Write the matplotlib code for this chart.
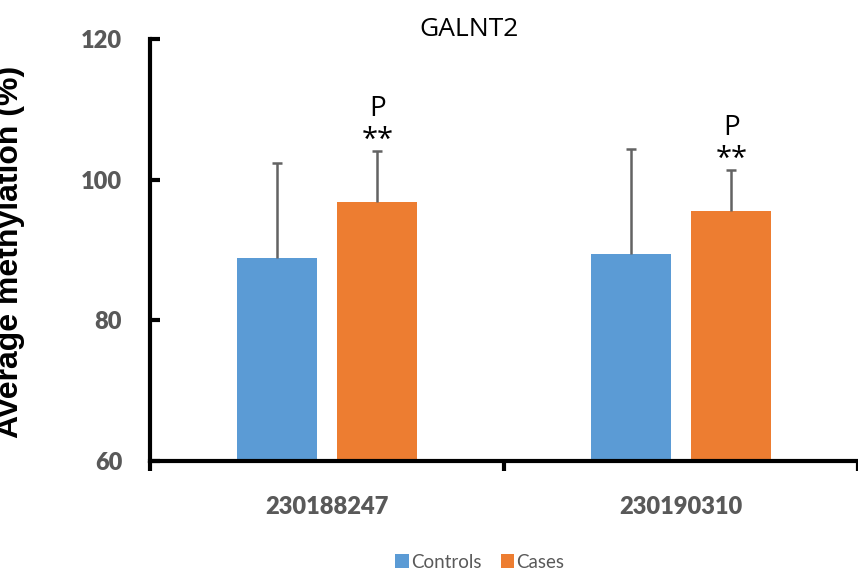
import numpy as np
import matplotlib
matplotlib.use("Agg")
import matplotlib.pyplot as plt

# --- DATA ---
categories = ["230188247", "230190310"]
controls = [88.8, 89.4]
controls_err = [13.6, 15.0]
cases = [96.8, 95.6]
cases_err = [7.3, 5.8]
series_names = ["Controls", "Cases"]
marks = ["**", "**"]

# --- STYLE ---
BLUE = "#5B9BD5"
ORANGE = "#ED7D31"
GRAY = "#595959"
ERR = "#636363"
TICK_FONT = "Lato"

fig = plt.figure(figsize=(8.58, 5.77), dpi=100)
ax = fig.add_axes([150 / 858, 1 - 461 / 577, 1 - 150 / 858, (461 - 39) / 577])

x = np.arange(len(categories))
w = 0.227
off = 0.142
cap = 0.014  # half cap width, data units

ax.bar(x - off, controls, w, color=BLUE, label=series_names[0], zorder=2)
ax.bar(x + off, cases, w, color=ORANGE, label=series_names[1], zorder=2)

# upper-only error bars
for xs, vals, errs in [(x - off, controls, controls_err), (x + off, cases, cases_err)]:
    tops = np.array(vals) + np.array(errs)
    ax.vlines(xs, vals, tops, color=ERR, linewidth=1.8, zorder=3)
    ax.hlines(tops, xs - cap, xs + cap, color=ERR, linewidth=1.8, zorder=3)

# significance marks above cases
for xi, v, e, m in zip(x, cases, cases_err, marks):
    top = v + e
    ax.annotate(m, (xi + off, top), xytext=(0, -3), textcoords="offset points",
                ha="center", va="bottom", fontsize=21, family="Open Sans",
                color="black", annotation_clip=False)
    ax.annotate("P", (xi + off, top), xytext=(0, 20), textcoords="offset points",
                ha="center", va="bottom", fontsize=20, family="Open Sans",
                color="black", annotation_clip=False)

ax.set_ylim(60, 120)
ax.set_xlim(-0.5, len(categories) - 0.5)
ax.set_yticks([60, 80, 100, 120])

# category boundaries as ticks, labels at centers
ax.set_xticks(np.arange(len(categories) + 1) - 0.5)
ax.set_xticklabels([])
ax.set_xticks(x, minor=True)
ax.set_xticklabels(categories, minor=True)
ax.tick_params(axis="x", which="major", direction="out", length=7, width=3, color="black")
ax.tick_params(axis="x", which="minor", length=0, pad=25)
ax.tick_params(axis="y", direction="in", length=7, width=3, color="black", pad=20)

for lab in ax.get_xticklabels(minor=True) + ax.get_yticklabels():
    lab.set_fontfamily(TICK_FONT)
    lab.set_fontweight("heavy")
    lab.set_fontsize(17)
    lab.set_color(GRAY)

for s in ["top", "right"]:
    ax.spines[s].set_visible(False)
for s in ["left", "bottom"]:
    ax.spines[s].set_linewidth(3)
    ax.spines[s].set_color("black")
    ax.spines[s].set_clip_on(False)

fig.text(469 / 858, 1 - 29 / 577, "GALNT2", ha="center", va="center",
         fontsize=19, family="Open Sans", color="black")

fig.text(25 / 858, 1 - 252 / 577, "Average methylation (%)", rotation=90,
         ha="right", va="center", fontsize=23, fontweight="bold",
         family="Liberation Sans", color="black")

leg = fig.legend(loc="center", bbox_to_anchor=(480 / 858, 1 - 562 / 577), ncol=2,
                 frameon=False, handlelength=0.7, handleheight=0.7,
                 handletextpad=0.15, columnspacing=1.0,
                 prop={"family": "Lato", "size": 13.5})
for t in leg.get_texts():
    t.set_color(GRAY)

fig.savefig("out.png", dpi=100)
